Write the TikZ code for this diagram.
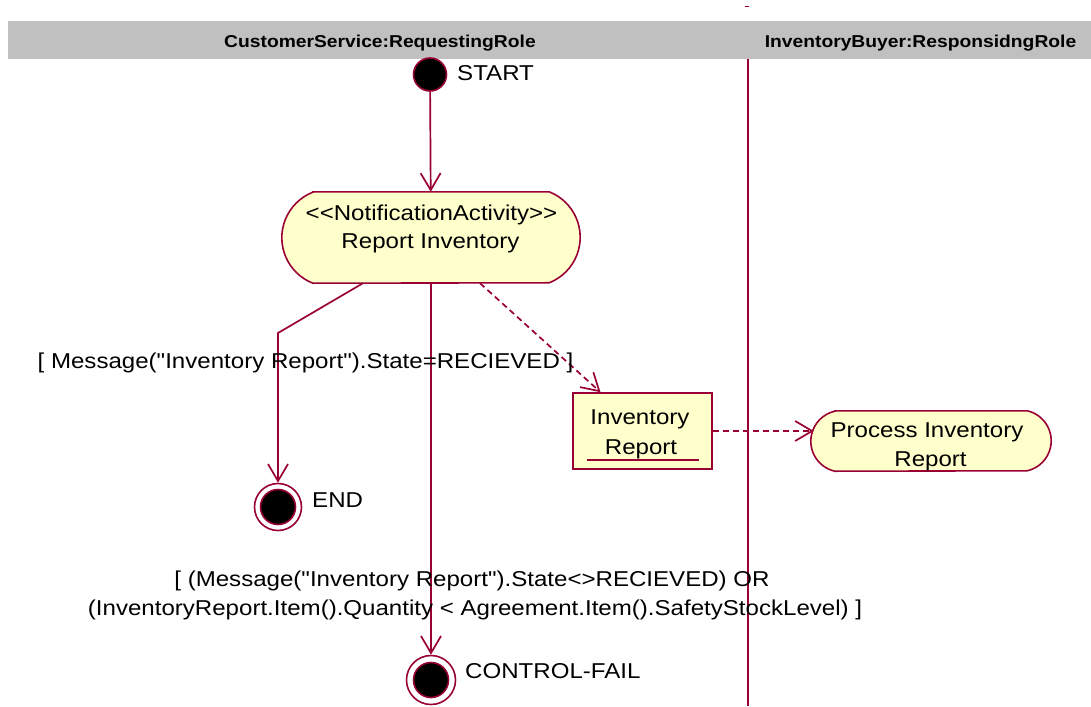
\documentclass[tikz,border=0pt]{standalone}
\usepackage{fontspec}
\setmainfont{Liberation Sans}[Ligatures=TeXOff, FakeStretch=1.12]
\usetikzlibrary{arrows.meta}
\definecolor{flowred}{RGB}{153,0,51}
\definecolor{notefill}{RGB}{255,255,204}
\definecolor{lanegray}{RGB}{192,192,192}
\tikzset{
  txt/.style={inner sep=0pt, font=\fontsize{21.5}{26}\selectfont},
  lanetitle/.style={inner sep=0pt, font=\fontsize{17.2}{20}\selectfont\bfseries},
  flow/.style={draw=flowred, line width=1.7pt,
    -{Straight Barb[length=17pt,width=20pt,line width=1.7pt]}},
  objflow/.style={flow, dash pattern=on 6pt off 4pt},
  frame/.style={rectangle, inner sep=0pt},
  stateline/.style={draw=flowred, fill=notefill, line width=1.6pt},
  objbox/.style={rectangle, draw=flowred, fill=notefill, line width=1.6pt, inner sep=0pt},
  initial/.style={circle, draw=flowred, fill=black, line width=1.6pt,
    inner sep=0pt, minimum size=33pt},
  finalring/.style={circle, draw=flowred, fill=white, line width=1.6pt, inner sep=0pt},
  finaldot/.style={circle, draw=flowred, fill=black, line width=1.6pt,
    inner sep=0pt, minimum size=35pt},
}
\begin{document}
\begin{tikzpicture}[x=1pt,y=-1pt]
\useasboundingbox (0,0) rectangle (1091,706);

% swimlane header and divider
\fill[lanegray] (8,21) rectangle (1091,59);
\node[lanetitle, anchor=base] (laneA) at (380,47.5) {CustomerService:RequestingRole};
\node[lanetitle, anchor=base] (laneB) at (920.5,47.5) {InventoryBuyer:ResponsidngRole};
\draw[flowred, line width=1pt] (744.5,6.5) -- (748.5,6.5);
\draw[flowred, line width=2pt] (748,59) -- (748,706);

% initial state
\node[initial] (start) at (430,74.5) {};
\node[txt, anchor=base west] (startlbl) at (457,81) {START};

% notification activity (flat top and bottom, arced ends)
\node[frame, minimum width=298pt, minimum height=91pt] (act) at (431,237.5) {};
\draw[stateline] ([xshift=31pt]act.north west) -- ([xshift=-31pt]act.north east)
  arc[start angle=68.5, end angle=-68.5, radius=48.9pt]
  -- ([xshift=31pt]act.south west)
  arc[start angle=248.5, end angle=111.5, radius=48.9pt] -- cycle;
\node[txt, anchor=base] (actA) at (431.5,220) {<<NotificationActivity>>};
\node[txt, anchor=base] (actB) at (430.5,248) {Report Inventory};

% final states
\node[finalring, minimum size=47pt] (end) at (278,507) {};
\node[finaldot] at (end) {};
\node[txt, anchor=base west] (endlbl) at (312,507) {END};

\node[finalring, minimum size=49pt] (fail) at (431,680) {};
\node[finaldot] at (fail) {};
\node[txt, anchor=base west] (faillbl) at (465,678) {CONTROL-FAIL};

% object flow: inventory report
\node[objbox, minimum width=139pt, minimum height=76pt] (inv) at (642.5,431) {};
\node[txt, anchor=base] (invA) at (640,424) {Inventory};
\node[txt, anchor=base] (invB) at (641,454) {Report};
\draw[flowred, line width=1.6pt] ([xshift=15pt,yshift=10pt]inv.south west)
  -- ([xshift=-14pt,yshift=10pt]inv.south east);

% receiving activity
\node[frame, minimum width=240pt, minimum height=60pt] (proc) at (931,441) {};
\draw[stateline] ([xshift=24pt]proc.north west) -- ([xshift=-24pt]proc.north east)
  arc[start angle=77.3, end angle=-77.3, radius=30.75pt]
  -- ([xshift=24pt]proc.south west)
  arc[start angle=257.3, end angle=102.7, radius=30.75pt] -- cycle;
\node[txt, anchor=base] (procA) at (927,437) {Process Inventory};
\node[txt, anchor=base] (procB) at (930.5,466) {Report};

% transitions
\coordinate (bend) at (278,333);
\draw[flow] (start) -- (act);
\draw[flow] ([xshift=-68pt]act.south) -- (bend) -- (end.north);
\draw[flow] (act.south) -- (fail.north);
\draw[objflow] ([xshift=49pt]act.south) -- ([xshift=-42pt]inv.north);
\draw[objflow] (inv.east) -- ([xshift=3pt]proc.west |- inv.east);

% guard conditions
\node[txt, anchor=base] (g1) at (305.5,368) {[ Message("Inventory Report").State=RECIEVED ]};
\node[txt, anchor=base] (g2a) at (472,586) {[ (Message("Inventory Report").State<>RECIEVED) OR};
\node[txt, anchor=base] (g2b) at (475,615) {(InventoryReport.Item().Quantity < Agreement.Item().SafetyStockLevel) ]};
\end{tikzpicture}
\end{document}
